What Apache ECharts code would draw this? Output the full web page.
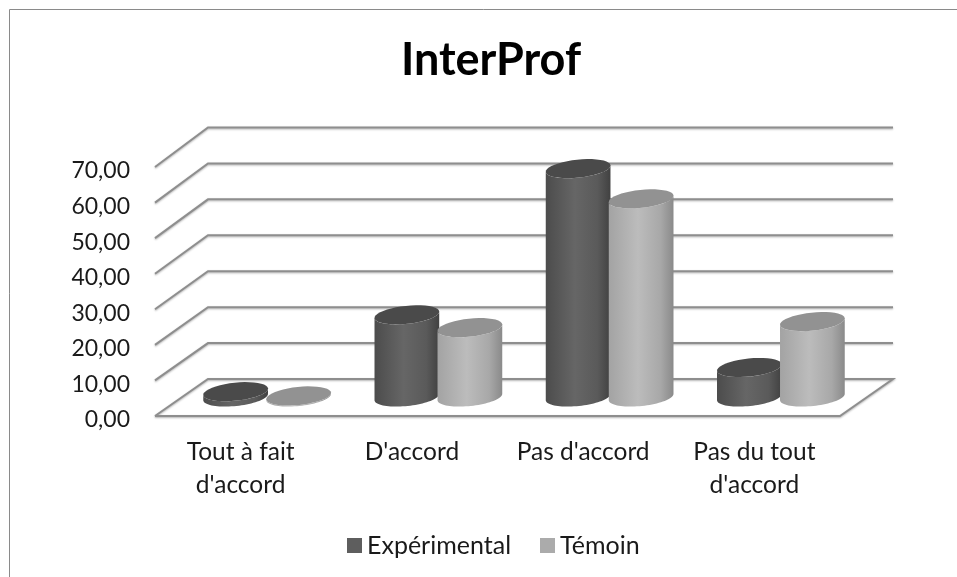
<!DOCTYPE html>
<html>
<head>
<meta charset="utf-8">
<style>
  html, body { margin: 0; padding: 0; background: #fff; }
  #main { width: 957px; height: 577px; }
</style>
<script src="https://cdn.jsdelivr.net/npm/echarts@6/dist/echarts.min.js"></script>
</head>
<body>
<div id="main"></div>
<script>
var categories = ["Tout à fait\nd'accord", "D'accord", "Pas d'accord", "Pas du tout\nd'accord"];
var experimental = [1.5, 23.1, 64.2, 8.3];
var temoin = [0.3, 19.5, 55.7, 21.2];
var yTicks = [0, 10, 20, 30, 40, 50, 60, 70];

var FONT = "Lato";
var DEPTH_X = 53, DEPTH_Y = 37;
var LINE = { stroke: "#8e8e8e", lineWidth: 2, fill: null, shadowColor: "rgba(0,0,0,0.3)", shadowBlur: 2, shadowOffsetY: 1 };

// point on a slightly tilted ellipse, same tilt as the excel 3d cylinders
function ellipsePts(cx, cy, rx, ry, from, to) {
  var tilt = -6 * Math.PI / 180, pts = [], n = 40;
  for (var i = 0; i <= n; i++) {
    var t = from + (to - from) * i / n;
    var ex = rx * Math.cos(t), ey = ry * Math.sin(t);
    pts.push([cx + ex * Math.cos(tilt) - ey * Math.sin(tilt), cy + ex * Math.sin(tilt) + ey * Math.cos(tilt)]);
  }
  return pts;
}

function cylinder(side, stops, topColor) {
  return function (params, api) {
    var idx = api.value(0);
    var top = api.coord([idx, api.value(1)]);
    var base = api.coord([idx, 0]);
    var band = api.size([1, 0])[0];
    var rx = band * 0.19, ry = 9;
    var cx = top[0] + DEPTH_X / 2 + side * band * 0.184;
    var baseY = base[1] - DEPTH_Y / 2 - 0.5;
    var topY = top[1] - DEPTH_Y / 2 - 0.5;
    var body = ellipsePts(cx, baseY, rx, ry, 0, Math.PI)
      .concat(ellipsePts(cx, topY, rx, ry, Math.PI, 0));
    return {
      type: "group",
      children: [
        {
          type: "polygon",
          shape: { points: body },
          style: { fill: new echarts.graphic.LinearGradient(0, 0, 1, 0, stops) }
        },
        {
          type: "polygon",
          shape: { points: ellipsePts(cx, topY, rx, ry, 0, Math.PI * 2) },
          style: { fill: topColor }
        }
      ]
    };
  };
}

function renderWall(params, api) {
  var v = api.value(1);
  var g = params.coordSys;
  var y0 = g.y + g.height;
  var y = api.coord([0, v])[1];
  var left = g.x, right = g.x + g.width;
  var backY = y0 - DEPTH_Y - (y0 - y) * 1.01;
  var pts = [[left, y], [left + DEPTH_X, backY], [right + DEPTH_X, backY]];
  if (v === 0) {
    // floor closes on the front and right sides
    pts = pts.concat([[right, y], [left, y]]);
  }
  return { type: "polyline", shape: { points: pts }, style: LINE };
}

function toPairs(arr) {
  return arr.map(function (v, i) { return [i, v]; });
}

var chart = echarts.init(document.getElementById("main"));
chart.setOption({
  animation: false,
  backgroundColor: "#fff",
  title: {
    text: "InterProf",
    left: 486,
    top: 33,
    textAlign: "center",
    textStyle: { fontFamily: FONT, fontSize: 45, fontWeight: "bold", color: "#000" }
  },
  legend: {
    data: ["Expérimental", "Témoin"],
    left: 342,
    top: 528,
    itemWidth: 15,
    itemHeight: 15,
    itemGap: 29,
    icon: "rect",
    textStyle: { fontFamily: FONT, fontSize: 25, color: "#1a1a1a" }
  },
  grid: { left: 155, right: 117, top: 167, bottom: 161 },
  xAxis: {
    type: "category",
    data: categories,
    axisLine: { show: false },
    axisTick: { show: false },
    axisLabel: { fontFamily: FONT, fontSize: 24.5, lineHeight: 33, color: "#1a1a1a", margin: 20, interval: 0 }
  },
  yAxis: {
    type: "value",
    min: 0,
    max: 70,
    interval: 10,
    axisLine: { show: false },
    axisTick: { show: false },
    splitLine: { show: false },
    axisLabel: {
      margin: 25,
      formatter: function (v) { return "{n|" + v.toFixed(2).replace(".", ",") + "}"; },
      rich: {
        // labels sit a little under the gridline ends
        n: { fontFamily: FONT, fontSize: 23, color: "#1a1a1a", padding: [8, 0, 0, 0] }
      }
    }
  },
  graphic: [{
    type: "polyline",
    silent: true,
    shape: { points: [[9.5, 577], [9.5, 9.5], [957, 9.5]] },
    style: { stroke: "#8a8a8a", lineWidth: 1, fill: null }
  }],
  series: [
    {
      type: "custom", name: "walls", silent: true, clip: false,
      data: yTicks.map(function (v) { return [0, v]; }),
      renderItem: renderWall,
      encode: { x: 0, y: 1 }
    },
    {
      type: "custom", name: "Expérimental", clip: false,
      itemStyle: { color: "#5e5e5e" },
      data: toPairs(experimental),
      encode: { x: 0, y: 1 },
      renderItem: cylinder(-1, [
        { offset: 0, color: "#4c4c4c" },
        { offset: 0.45, color: "#666666" },
        { offset: 0.8, color: "#5a5a5a" },
        { offset: 1, color: "#414141" }
      ], "#4a4a4a")
    },
    {
      type: "custom", name: "Témoin", clip: false,
      itemStyle: { color: "#ababab" },
      data: toPairs(temoin),
      encode: { x: 0, y: 1 },
      renderItem: cylinder(1, [
        { offset: 0, color: "#a3a3a3" },
        { offset: 0.45, color: "#bcbcbc" },
        { offset: 0.8, color: "#a8a8a8" },
        { offset: 1, color: "#8a8a8a" }
      ], "#929292")
    }
  ]
});
</script>
</body>
</html>
